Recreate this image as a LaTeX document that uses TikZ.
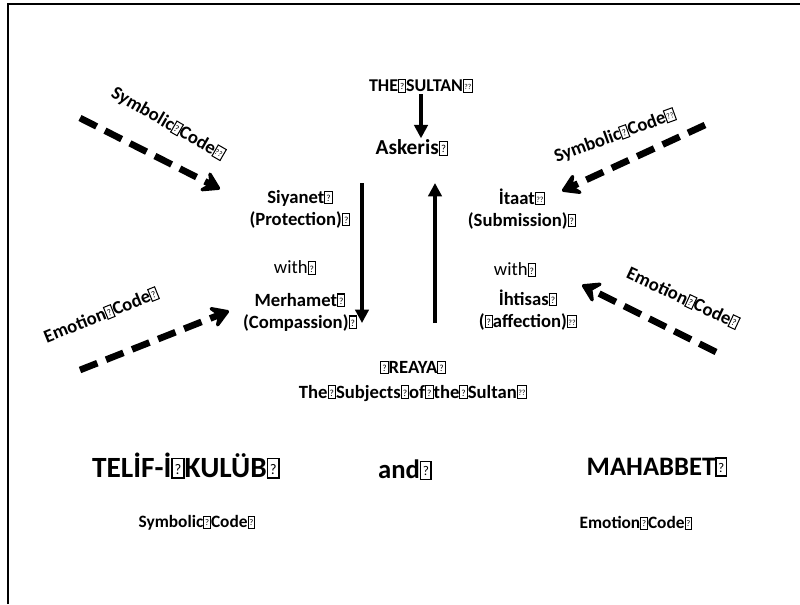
\documentclass[tikz,border=0pt]{standalone}
\usepackage{fontspec}
\setmainfont{Carlito}
\usepackage{graphicx}
\usetikzlibrary{arrows.meta}

% boxes for the missing glyphs
\newcommand\tofu{{\fboxsep=0pt\fboxrule=0.055em\framebox[0.45em]{\rule{0pt}{0.62em}\raisebox{0.1em}{\scalebox{0.5}{\mdseries ?}}}}}
\newcommand\tofuu{{\fboxsep=0pt\fboxrule=0.055em\framebox[0.55em]{\rule{0pt}{0.62em}\raisebox{0.12em}{\scalebox{0.42}{\mdseries ??}}}}}

\tikzset{
  lbl/.style={font=\bfseries\fontsize{14}{16.5}\selectfont, align=center, inner sep=1pt},
  plain/.style={font=\fontsize{14}{16.5}\selectfont, inner sep=1pt},
  big/.style={font=\bfseries\fontsize{22}{26}\selectfont, inner sep=1pt},
  flow/.style={line width=2.4pt, -{Triangle[length=10pt,width=10pt]}},
  code/.style={line width=5pt, dash pattern=on 14pt off 7pt,
    -{Stealth[length=17pt,width=21pt,inset=7pt,round]}},
}

\begin{document}
\begin{tikzpicture}[x=0.75pt,y=-0.75pt]
    \useasboundingbox (0,0) rectangle (800,604);
    \draw[line width=1.6pt] (8,604) -- (8,4) -- (800,4);

    \node[lbl, font=\bfseries\fontsize{13.5}{16}\selectfont] (sultan) at (421,86) {THE\tofu SULTAN\tofuu};
    \node[lbl, font=\bfseries\fontsize{16}{18}\selectfont] (askeri) at (412,148) {Askeris\tofu};
    \draw[flow] (sultan.south) -- (sultan.south |- askeri.north);

    \node[lbl] (siyanet) at (300,209) {Siyanet\tofu\\(Protection)\tofu};
    \node[plain] (withl) at (295,268) {with\tofu};
    \node[lbl] (merhamet) at (300,312) {Merhamet\tofu\\(Compassion)\tofu};

    \node[lbl] (itaat) at (522,209) {İtaat\tofuu\\(Submission)\tofu};
    \node[plain] (withr) at (515,270) {with\tofu};
    \node[lbl] (ihtisas) at (528,310) {İhtisas\tofu\\(\tofu affection)\tofuu};

    \coordinate (down1) at (362,183);
    \coordinate (down2) at (362,323);
    \coordinate (up1) at (435,323);
    \coordinate (up2) at (435,183);
    \draw[flow] (down1) -- (down2);
    \draw[flow] (up1) -- (up2);

    \node[lbl] (reaya) at (413,381) {\tofu REAYA\tofu\\[2pt]The\tofu Subjects\tofu of\tofu the\tofu Sultan\tofuu};

    % codes
    \coordinate (scl1) at (80,118);
    \coordinate (scl2) at (220,189);
    \draw[code] (scl1) -- (scl2);
    \node[lbl, rotate=-30] (scltxt) at (168,124) {Symbolic\tofu Code\tofuu};

    \coordinate (scr1) at (705,125);
    \coordinate (scr2) at (562,191);
    \draw[code] (scr1) -- (scr2);
    \node[lbl, rotate=20] (scrtxt) at (615,136) {Symbolic\tofu Code\tofuu};

    \coordinate (ecl1) at (80,370);
    \coordinate (ecl2) at (229,311);
    \draw[code] (ecl1) -- (ecl2);
    \node[lbl, rotate=22] (ecltxt) at (101,315) {Emotion\tofu Code\tofu};

    \coordinate (ecr1) at (716,352);
    \coordinate (ecr2) at (582,285);
    \draw[code] (ecr1) -- (ecr2);
    \node[lbl, rotate=-25] (ecrtxt) at (683,298) {Emotion\tofu Code\tofu};

    % bottom
    \node[big] (telif) at (186,466) {TELİF-İ\tofu KULÜB\tofu};
    \node[big, font=\bfseries\fontsize{20}{24}\selectfont] (and) at (405,470) {and\tofu};
    \node[big, font=\bfseries\fontsize{20}{24}\selectfont] (mahabbet) at (657,467) {MAHABBET\tofu};
    \node[lbl, font=\bfseries\fontsize{13}{16}\selectfont] (symb) at (197,523) {Symbolic\tofu Code\tofu};
    \node[lbl, font=\bfseries\fontsize{13}{16}\selectfont] (emot) at (636,523) {Emotion\tofu Code\tofu};
\end{tikzpicture}
\end{document}
